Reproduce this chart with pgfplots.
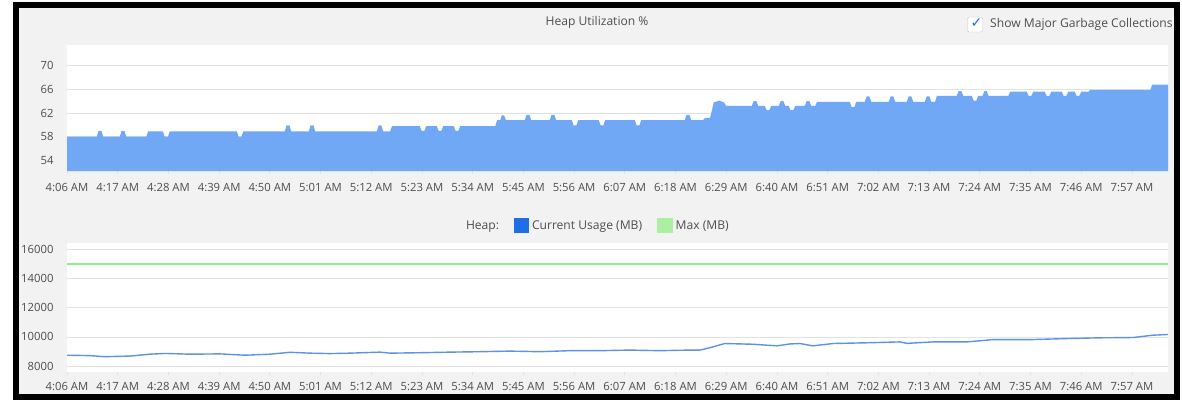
\documentclass[border=0pt]{standalone}
\usepackage{fontspec}
\setmainfont{Open Sans}
\newfontfamily\dejavu{DejaVu Sans}
\usepackage{pgfplots}
\pgfplotsset{compat=1.18}
\definecolor{heapfill}{RGB}{112,168,245}
\definecolor{heapline}{RGB}{92,147,230}
\definecolor{maxline}{RGB}{144,236,144}
\definecolor{legblue}{RGB}{30,110,232}
\definecolor{leggreen}{RGB}{170,240,160}
\definecolor{panel}{RGB}{242,242,242}
\definecolor{txt}{RGB}{78,78,78}
\definecolor{gridc}{RGB}{226,226,226}
\newcommand{\tickfont}{\fontsize{11.3}{13}\selectfont}
\newcommand{\txtfont}{\fontsize{12.1}{14}\selectfont}
\pgfplotsset{
  hchart/.style={
    scale only axis, width=1101pt, anchor=south west,
    xmin=0, xmax=238.83,
    axis background/.style={fill=white},
    axis line style={draw=none},
    ymajorgrids, grid style={gridc, line width=0.8pt},
    xtick={0,11,...,231},
    xticklabels={4:06 AM,4:17 AM,4:28 AM,4:39 AM,4:50 AM,5:01 AM,5:12 AM,5:23 AM,5:34 AM,5:45 AM,5:56 AM,6:07 AM,6:18 AM,6:29 AM,6:40 AM,6:51 AM,7:02 AM,7:13 AM,7:24 AM,7:35 AM,7:46 AM,7:57 AM},
    tick label style={font=\tickfont, text=txt},
    /pgf/number format/assume math mode=true,
    /pgf/number format/1000 sep={},
    scaled y ticks=false,
    xtick pos=bottom, ytick pos=left,
    tick align=outside, major tick length=3pt,
    xtick style={gridc, line width=0.8pt},
    ytick style={draw=none},
    yticklabel style={xshift=-7pt},
  }
}
\begin{document}
\begin{tikzpicture}[x=1pt,y=1pt]
\useasboundingbox (0,0) rectangle (1182,402);
\fill[white] (0,0) rectangle (1182,402);
\fill[panel] (15.5,5.5) rectangle (1176.5,397);

% ---------- top chart ----------
\begin{axis}[hchart, at={(67pt,231pt)}, height=126pt,
  ymin=52.2, ymax=73.5, ytick={54,58,62,66,70},
  xticklabel style={yshift=-6pt}]
\addplot[fill=heapfill, draw=none] coordinates {
(0,52.2) (0,58)
(6.46,58) (6.86,59) (7.46,59) (7.86,58)
(11.45,58) (11.85,59) (12.45,59) (12.85,58)
(17.2,58) (17.6,58.9) (20.8,58.9) (21.2,58)
(21.9,58) (22.3,58.9)
(36.83,58.9) (37.23,58) (37.83,58) (38.23,58.9)
(47.24,58.9) (47.64,59.9) (48.24,59.9) (48.64,58.9)
(52.45,58.9) (52.85,59.9) (53.45,59.9) (53.85,58.9)
(67.2,58.9) (67.6,59.9) (68.2,59.9) (68.6,58.9)
(70.1,58.9) (70.5,59.8)
(76.52,59.8) (76.92,59) (77.52,59) (77.92,59.8)
(80.21,59.8) (80.61,59) (81.21,59) (81.61,59.8)
(83.9,59.8) (84.3,59) (84.9,59) (85.3,59.8)
(92.9,59.8) (93.3,60.8)
(94.0,60.8) (94.3,61.6) (94.8,61.6) (95.2,60.8)
(99.3,60.8) (99.7,61.7) (100.3,61.7) (100.7,60.8)
(104.72,60.8) (105.12,61.7) (105.72,61.7) (106.12,60.8)
(109.5,60.8) (109.9,59.9) (110.5,59.9) (110.9,60.8)
(115.35,60.8) (115.75,59.9) (116.35,59.9) (116.75,60.8)
(123.16,60.8) (123.56,59.9) (124.16,59.9) (124.56,60.8)
(134.0,60.8) (134.4,61.7) (135.0,61.7) (135.4,60.8)
(138.0,60.8) (138.4,61.2)
(139.5,61.2) (140.3,63.8) (141.5,64.1) (142.5,63.8) (143.0,63.2)
(148.54,63.2) (148.94,64.0) (149.54,64.0) (149.94,63.2)
(151.36,63.2) (151.76,62.5) (152.36,62.5) (152.76,63.2)
(154.4,63.2) (154.8,64.0) (155.4,64.0) (155.8,63.2)
(156.57,63.2) (156.97,62.5) (157.57,62.5) (157.97,63.2)
(160.04,63.2) (160.44,64) (161.04,64) (161.44,63.2)
(162.3,63.2) (162.7,63.9)
(169.8,63.9) (170.2,63.0) (170.8,63.0) (171.2,63.9)
(173.05,63.9) (173.45,64.8) (174.05,64.8) (174.45,63.9)
(178.26,63.9) (178.66,64.8) (179.26,64.8) (179.66,63.9)
(182.16,63.9) (182.56,64.8) (183.16,64.8) (183.56,63.9)
(186.07,63.9) (186.47,64.8) (187.07,64.8) (187.47,63.9)
(188.3,63.9) (188.7,64.9)
(193.0,64.9) (193.4,65.7) (194.0,65.7) (194.4,64.9)
(196.26,64.9) (196.66,64.1) (197.26,64.1) (197.66,64.9)
(198.6,64.9) (199.0,65.7) (199.5,65.7) (199.9,64.9)
(204.2,64.9) (204.6,65.6)
(208.19,65.6) (208.59,64.9) (209.19,64.9) (209.59,65.6)
(212.1,65.6) (212.5,64.9) (213.1,64.9) (213.5,65.6)
(215.79,65.6) (216.19,64.9) (216.79,64.9) (217.19,65.6)
(218.6,65.6) (219.0,64.9) (219.6,64.9) (220.0,65.6)
(221.6,65.6) (221.9,65.9)
(235.0,65.9) (235.4,66.8)
(238.83,66.8) (238.83,52.2)
};
\end{axis}

% ---------- bottom chart ----------
\begin{axis}[hchart, at={(67pt,30pt)}, height=129pt,
  ymin=7600, ymax=16430, ytick={8000,10000,...,16000},
  xticklabel style={yshift=-4pt},
  legend style={at={(0.3597,1.1357)}, anchor=west, draw=none, fill=none,
    inner sep=0pt, outer sep=0pt,
    nodes={inner sep=0pt, outer sep=0pt},
    legend columns=-1, font=\txtfont, text=txt,
    /tikz/every odd column/.append style={column sep=3pt},
    /tikz/every even column/.append style={column sep=14.5pt}},
  legend cell align=left]
\addlegendimage{empty legend}\addlegendentry{Heap:}
\addplot[heapline, line width=1.4pt,
  legend image code/.code={\fill[legblue] (0pt,-6.5pt) rectangle (14pt,6.5pt);}] coordinates {
(0,8750) (5.0,8720) (8.2,8650) (13.7,8690) (18.0,8820) (21.3,8870) (26.7,8820)
(33.2,8840) (38.6,8750) (44.0,8820) (48.4,8950) (52.7,8890) (57.0,8860)
(61.4,8890) (67.9,8960) (70.1,8890) (76.6,8920) (83.1,8960) (89.6,8990)
(96.1,9030) (102.6,8990) (109.1,9060) (115.6,9060) (122.1,9100) (128.6,9060)
(135.1,9100) (137.3,9100) (139.9,9300) (142.7,9550) (148.8,9500) (154.0,9390)
(156.8,9520) (159.0,9550) (161.8,9390) (166.2,9550) (173.5,9600) (180.7,9660)
(182.2,9560) (187.9,9660) (195.2,9660) (200.9,9820) (209.5,9820) (216.9,9890)
(224.1,9940) (231.2,9960) (235.6,10120) (238.8,10170)
};
\addlegendentry{Current Usage (MB)}
\addplot[maxline, line width=2pt,
  legend image code/.code={\fill[leggreen] (0pt,-6.5pt) rectangle (14pt,6.5pt);}] coordinates {
(0,15000) (238.83,15000)
};
\addlegendentry{Max (MB)}
\end{axis}

% ---------- header texts ----------
\node[text=txt, font=\txtfont] at (597,379.5) {Heap Utilization \%};
\node[draw=gray!45, fill=white, rounded corners=2pt, minimum size=15pt, inner sep=0pt] at (975,377.5) {};
\node[text=legblue, inner sep=0pt] at (976.5,379) {\dejavu\fontsize{14}{14}\selectfont ✓};
\node[anchor=west, text=txt, font=\txtfont, inner sep=0pt] at (990,378) {Show Major Garbage Collections};

\draw[black, line width=6pt] (15.5,5.5) rectangle (1176.5,397);
\end{tikzpicture}
\end{document}
